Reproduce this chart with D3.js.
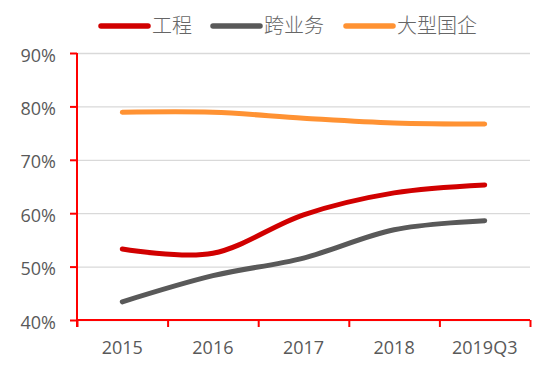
<!DOCTYPE html>
<html>
<head>
<meta charset="utf-8">
<script src="https://cdn.jsdelivr.net/npm/d3@7"></script>
<style>
  body { margin: 0; background: #fff; }
  .tick text { font-family: "Open Sans", "Noto Sans", sans-serif; font-size: 18px; fill: #595959; }
  .legend text { font-family: "Noto Sans CJK SC", sans-serif; font-size: 20px; fill: #666666; font-weight: 300; }
</style>
</head>
<body>
<div id="chart"></div>
<script>
// categories + series
var years = ["2015", "2016", "2017", "2018", "2019Q3"];
var gongcheng = [0.533, 0.525, 0.597, 0.638, 0.653];
var kuayewu = [0.434, 0.483, 0.516, 0.569, 0.586];
var daxingguoqi = [0.789, 0.789, 0.778, 0.769, 0.767];
var yTicks = [0.4, 0.5, 0.6, 0.7, 0.8, 0.9];

var seriesList = [
    { name: "工程", values: gongcheng, color: "#D10000" },
    { name: "跨业务", values: kuayewu, color: "#595959" },
    { name: "大型国企", values: daxingguoqi, color: "#FF9233" }
];

var W = 550, H = 370;
var plotLeft = 77, plotRight = 530, plotTop = 53, plotBottom = 320;

var svg = d3.select("#chart").append("svg")
    .attr("width", W)
    .attr("height", H);

var x = d3.scaleBand().domain(years).range([plotLeft, plotRight]);
var xEdge = d3.scaleLinear().domain([0, years.length]).range([plotLeft, plotRight]);
var y = d3.scaleLinear().domain([0.4, 0.9]).range([plotBottom, plotTop]);

// gridlines
var grid = svg.append("g")
    .attr("transform", "translate(" + plotLeft + ",0)")
    .call(d3.axisLeft(y).tickValues(yTicks).tickSize(-(plotRight - plotLeft)).tickFormat(""));
grid.select(".domain").remove();
grid.selectAll("line").attr("stroke", "#D9D9D9").attr("stroke-width", 1.3);

// y axis
var gY = svg.append("g")
    .attr("transform", "translate(" + plotLeft + ",0)")
    .call(d3.axisLeft(y).tickValues(yTicks).tickSize(7).tickPadding(14)
        .tickFormat(d3.format(".0%")));
gY.select(".domain").remove();
gY.selectAll("line").attr("stroke", "#FF0000").attr("stroke-width", 2);
gY.selectAll("text").attr("dy", "0.45em");
gY.append("line")
    .attr("x1", 0).attr("x2", 0)
    .attr("y1", plotTop).attr("y2", plotBottom + 7)
    .attr("stroke", "#FF0000").attr("stroke-width", 2);

// x axis : ticks on the category edges
var gX = svg.append("g")
    .attr("transform", "translate(0," + plotBottom + ")")
    .call(d3.axisBottom(xEdge).tickValues(d3.range(years.length + 1)).tickSize(7).tickFormat(""));
gX.select(".domain").remove();
gX.selectAll("line").attr("stroke", "#FF0000").attr("stroke-width", 2);
gX.append("line")
    .attr("x1", plotLeft).attr("x2", plotRight)
    .attr("stroke", "#FF0000").attr("stroke-width", 2);

var gXL = svg.append("g")
    .attr("transform", "translate(0," + plotBottom + ")")
    .call(d3.axisBottom(x).tickSize(0).tickPadding(21));
gXL.select(".domain").remove();

// lines
var line = d3.line()
    .x(function (d, i) { return x(years[i]) + x.bandwidth() / 2; })
    .y(function (d) { return y(d); })
    .curve(d3.curveCardinal.tension(0));

seriesList.forEach(function (s) {
    svg.append("path")
        .datum(s.values)
        .attr("fill", "none")
        .attr("stroke", s.color)
        .attr("stroke-width", 5)
        .attr("stroke-linecap", "round")
        .attr("d", line);
});

// legend
var legendX = [101, 213, 346];
var legend = svg.append("g").attr("class", "legend");
seriesList.forEach(function (s, i) {
    var g = legend.append("g").attr("transform", "translate(" + legendX[i] + ",26)");
    g.append("line")
        .attr("x1", 0).attr("x2", 47)
        .attr("stroke", s.color)
        .attr("stroke-width", 5.5)
        .attr("stroke-linecap", "round");
    g.append("text")
        .attr("x", 51)
        .attr("dy", "0.36em")
        .text(s.name);
});
</script>
</body>
</html>
